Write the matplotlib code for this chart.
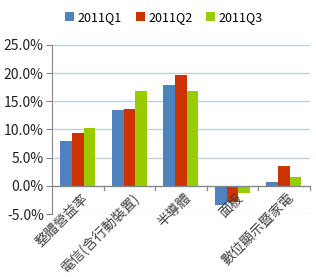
import matplotlib
matplotlib.use("Agg")
import matplotlib.pyplot as plt
import numpy as np
from matplotlib.ticker import FuncFormatter

plt.rcParams['font.family'] = ['Noto Sans CJK TC', 'DejaVu Sans']

categories = ['整體營益率', '電信(含行動裝置)', '半導體', '面板', '數位顯示暨家電']
series_names = ['2011Q1', '2011Q2', '2011Q3']
q1 = [8.0, 13.5, 17.9, -3.4, 0.7]
q2 = [9.4, 13.7, 19.7, -2.9, 3.6]
q3 = [10.3, 16.9, 16.9, -1.2, 1.6]
yticks = [-5, 0, 5, 10, 15, 20, 25]
colors = ['#4F81BD', '#CC3300', '#99CC00']

fig = plt.figure(figsize=(3.16, 2.77), dpi=100)
ax = fig.add_axes([0.165, 0.227, 0.815, 0.611])

x = np.arange(len(categories))
w = 0.227
for i, (vals, name, c) in enumerate(zip([q1, q2, q3], series_names, colors)):
    ax.bar(x + (i - 1) * w, vals, width=w, color=c, label=name, zorder=3)

ax.set_xlim(-0.5, len(categories) - 0.5)
ax.set_ylim(-5, 25)
ax.set_yticks(yticks)
ax.yaxis.set_major_formatter(FuncFormatter(lambda v, p: f'{v:.1f}%'))
ax.tick_params(axis='y', labelsize=10, length=4, color='#868686', labelcolor='#222222', pad=2)
ax.grid(axis='y', color='#B9CDE5', linewidth=0.9, zorder=0)
for s in ['top', 'right', 'bottom']:
    ax.spines[s].set_visible(False)
ax.spines['left'].set_color('#868686')
ax.set_xticks([])
ax.axhline(0, color='#868686', linewidth=0.9, zorder=4)
for b in np.arange(0.5, len(categories) + 0.5, 1.0):
    ax.plot([b, b], [0, -0.8], color='#868686', linewidth=0.9, zorder=4, clip_on=False)

for xi, lab in zip(x, categories):
    ax.text(xi + 0.06, -0.9, lab, rotation=45, ha='right', va='top', rotation_mode='anchor',
            fontsize=9.8, color='#404040', zorder=5)

leg = fig.legend(loc='upper center', bbox_to_anchor=(0.52, 1.0), ncol=3, frameon=False,
                 fontsize=9, handlelength=0.7, handleheight=0.75, handletextpad=0.3,
                 columnspacing=1.1)

fig.savefig('out.png', dpi=100)
